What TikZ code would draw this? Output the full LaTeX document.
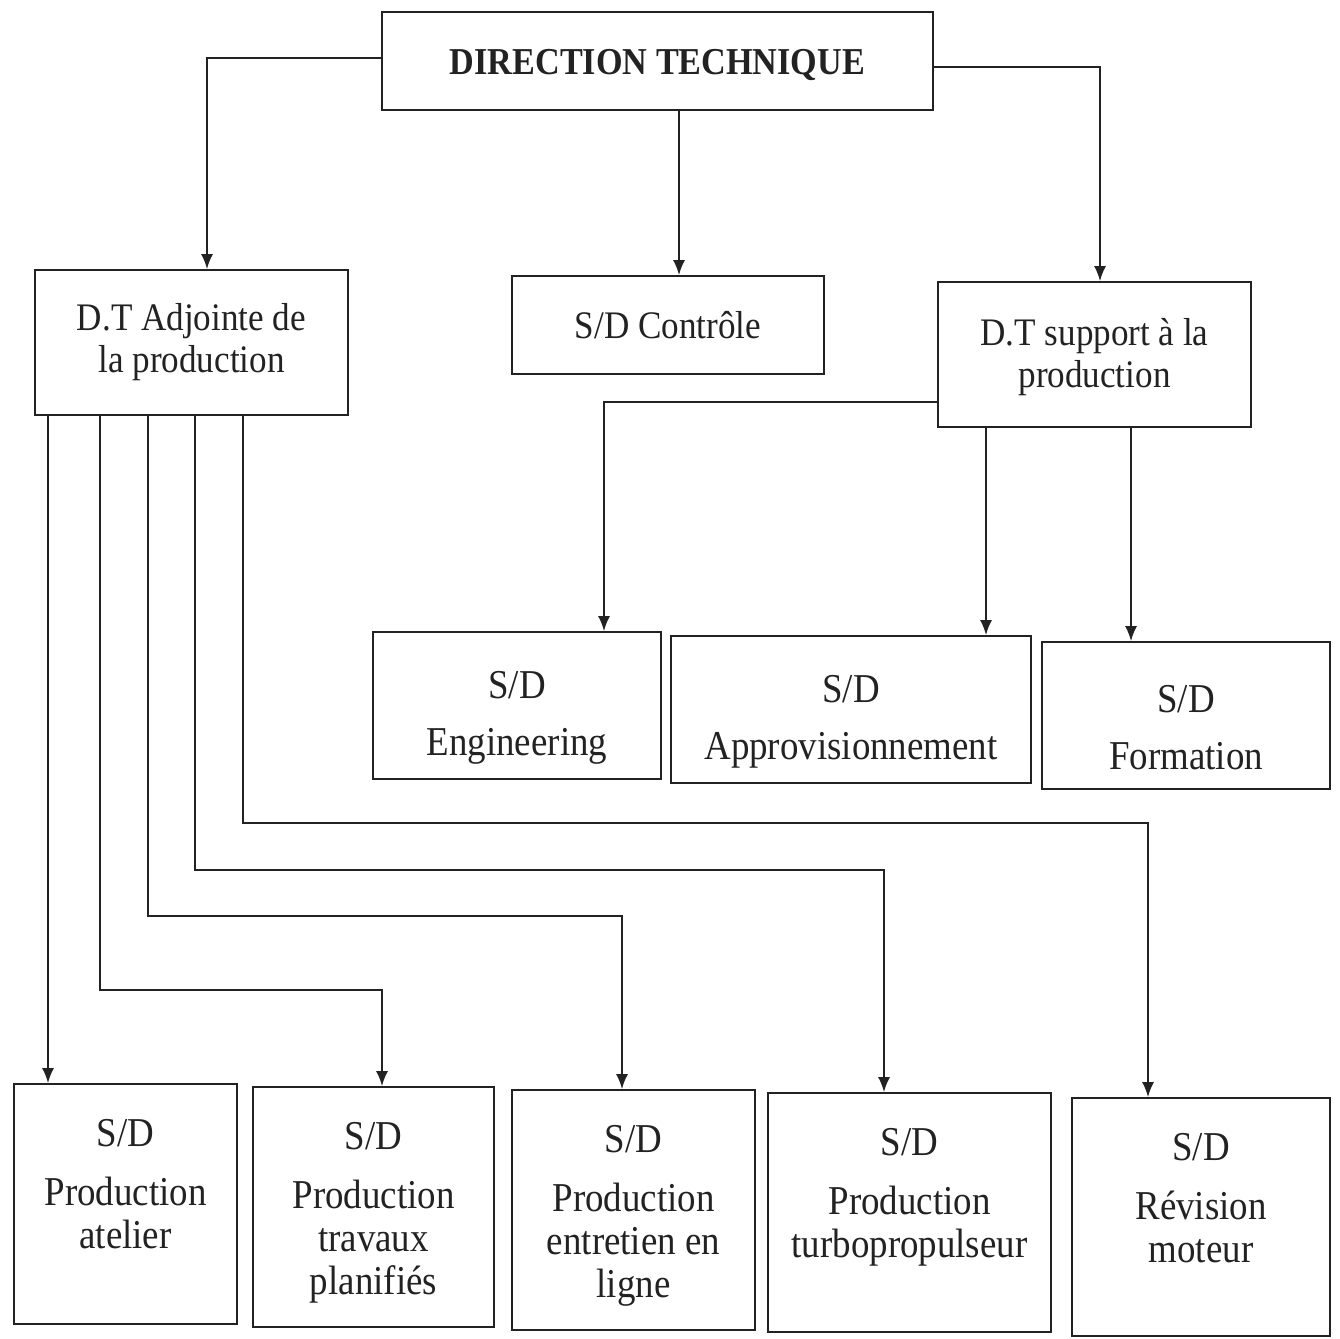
\documentclass[tikz,border=0pt]{standalone}
\usepackage{fontspec}
\setmainfont[FakeStretch=0.9]{Liberation Serif}
\usetikzlibrary{arrows.meta,calc}
\definecolor{ink}{HTML}{222222}
\begin{document}
\begin{tikzpicture}[x=1pt,y=-1pt,
  box/.style={draw=ink, line width=1.8pt, inner sep=0pt, align=center, text=ink},
  lbl/.style={inner sep=0pt, align=center, text=ink},
  arr/.style={draw=ink, line width=1.8pt, -{Latex[length=15pt,width=12pt]}},
  topf/.style={font=\fontsize{39}{42}\selectfont},
  subf/.style={font=\fontsize{41}{43}\selectfont}]
\useasboundingbox[fill=white] (0,0) rectangle (1340,1338);
% top
\node[box, minimum width=551pt, minimum height=98pt] (dt) at (657.5,61) {};
\node[lbl, font=\bfseries\fontsize{38}{42}\selectfont] (dtT) at ([yshift=-4pt]dt.center) {DIRECTION TECHNIQUE};
\node[box, topf, minimum width=313pt, minimum height=145pt] (adj) at (191.5,342.5) {D.T Adjointe de\\la production};
\node[box, topf, minimum width=312pt, minimum height=98pt] (ctrl) at (668,325) {S/D Contrôle};
\node[box, minimum width=313pt, minimum height=145pt] (sup) at (1094.5,354.5) {};
\node[lbl, topf] (supT) at ([yshift=-3pt]sup.center) {D.T support à la\\production};
% middle
\node[box, minimum width=288pt, minimum height=147pt] (eng) at (517,705.5) {};
\node[box, minimum width=360pt, minimum height=147pt] (app) at (851,709.5) {};
\node[box, minimum width=288pt, minimum height=147pt] (form) at (1186,715.5) {};
\node[lbl, subf] (engT) at ([yshift=-12pt]eng.center) {S/D\\[14pt]Engineering};
\node[lbl, subf] (appT) at ([yshift=-12pt]app.center) {S/D\\[14pt]Approvisionnement};
\node[lbl, subf] (formT) at ([yshift=-12pt]form.center) {S/D\\[14pt]Formation};
% bottom
\node[box, minimum width=223pt, minimum height=240pt] (atl) at (125.5,1204) {};
\node[box, minimum width=241pt, minimum height=240pt] (trav) at (373.5,1207) {};
\node[box, minimum width=243pt, minimum height=240pt] (ent) at (633.5,1210) {};
\node[box, minimum width=283pt, minimum height=239pt] (turb) at (909.5,1212.5) {};
\node[box, minimum width=258pt, minimum height=238pt] (rev) at (1201,1217) {};
\node[lbl, subf, anchor=north] (atlT) at ([yshift=-36pt]atl.north) {S/D\\[16pt]Production\\atelier};
\node[lbl, subf, anchor=north] (travT) at ([yshift=-36pt]trav.north) {S/D\\[16pt]Production\\travaux\\planifiés};
\node[lbl, subf, anchor=north] (entT) at ([yshift=-36pt]ent.north) {S/D\\[16pt]Production\\entretien en\\ligne};
\node[lbl, subf, anchor=north] (turbT) at ([yshift=-36pt]turb.north) {S/D\\[16pt]Production\\turbopropulseur};
\node[lbl, subf, anchor=north] (revT) at ([yshift=-36pt]rev.north) {S/D\\[16pt]Révision\\moteur};
% connectors from DIRECTION TECHNIQUE
\draw[arr] ([yshift=3pt]dt.west) -| ([xshift=15.5pt]adj.north);
\draw[arr] ([xshift=21.5pt]dt.south) -- ([xshift=11pt]ctrl.north);
\draw[arr] ([yshift=-6pt]dt.east) -| ([xshift=5.5pt]sup.north);
% connectors from support
\draw[arr] ([yshift=-47.5pt]sup.west) -| ([xshift=87pt]eng.north);
\draw[arr] ([xshift=-108.5pt]sup.south) -- ([xshift=135pt]app.north);
\draw[arr] ([xshift=36.5pt]sup.south) -- ([xshift=-55pt]form.north);
% connectors from adjointe
\coordinate (a1) at ([xshift=-143.5pt]adj.south);
\coordinate (a2) at ([xshift=-91.5pt]adj.south);
\coordinate (a3) at ([xshift=-43.5pt]adj.south);
\coordinate (a4) at ([xshift=3.5pt]adj.south);
\coordinate (a5) at ([xshift=51.5pt]adj.south);
\coordinate (t1) at ([xshift=-77.5pt]atl.north);
\coordinate (t2) at ([xshift=8.5pt]trav.north);
\coordinate (t3) at ([xshift=-11.5pt]ent.north);
\coordinate (t4) at ([xshift=-25.5pt]turb.north);
\coordinate (t5) at ([xshift=-53pt]rev.north);
\draw[arr] (a1) -- (t1);
\draw[arr] (a2) -- (a2 |- 0,990) -| (t2);
\draw[arr] (a3) -- (a3 |- 0,916) -| (t3);
\draw[arr] (a4) -- (a4 |- 0,870) -| (t4);
\draw[arr] (a5) -- (a5 |- 0,823) -| (t5);
\end{tikzpicture}
\end{document}
